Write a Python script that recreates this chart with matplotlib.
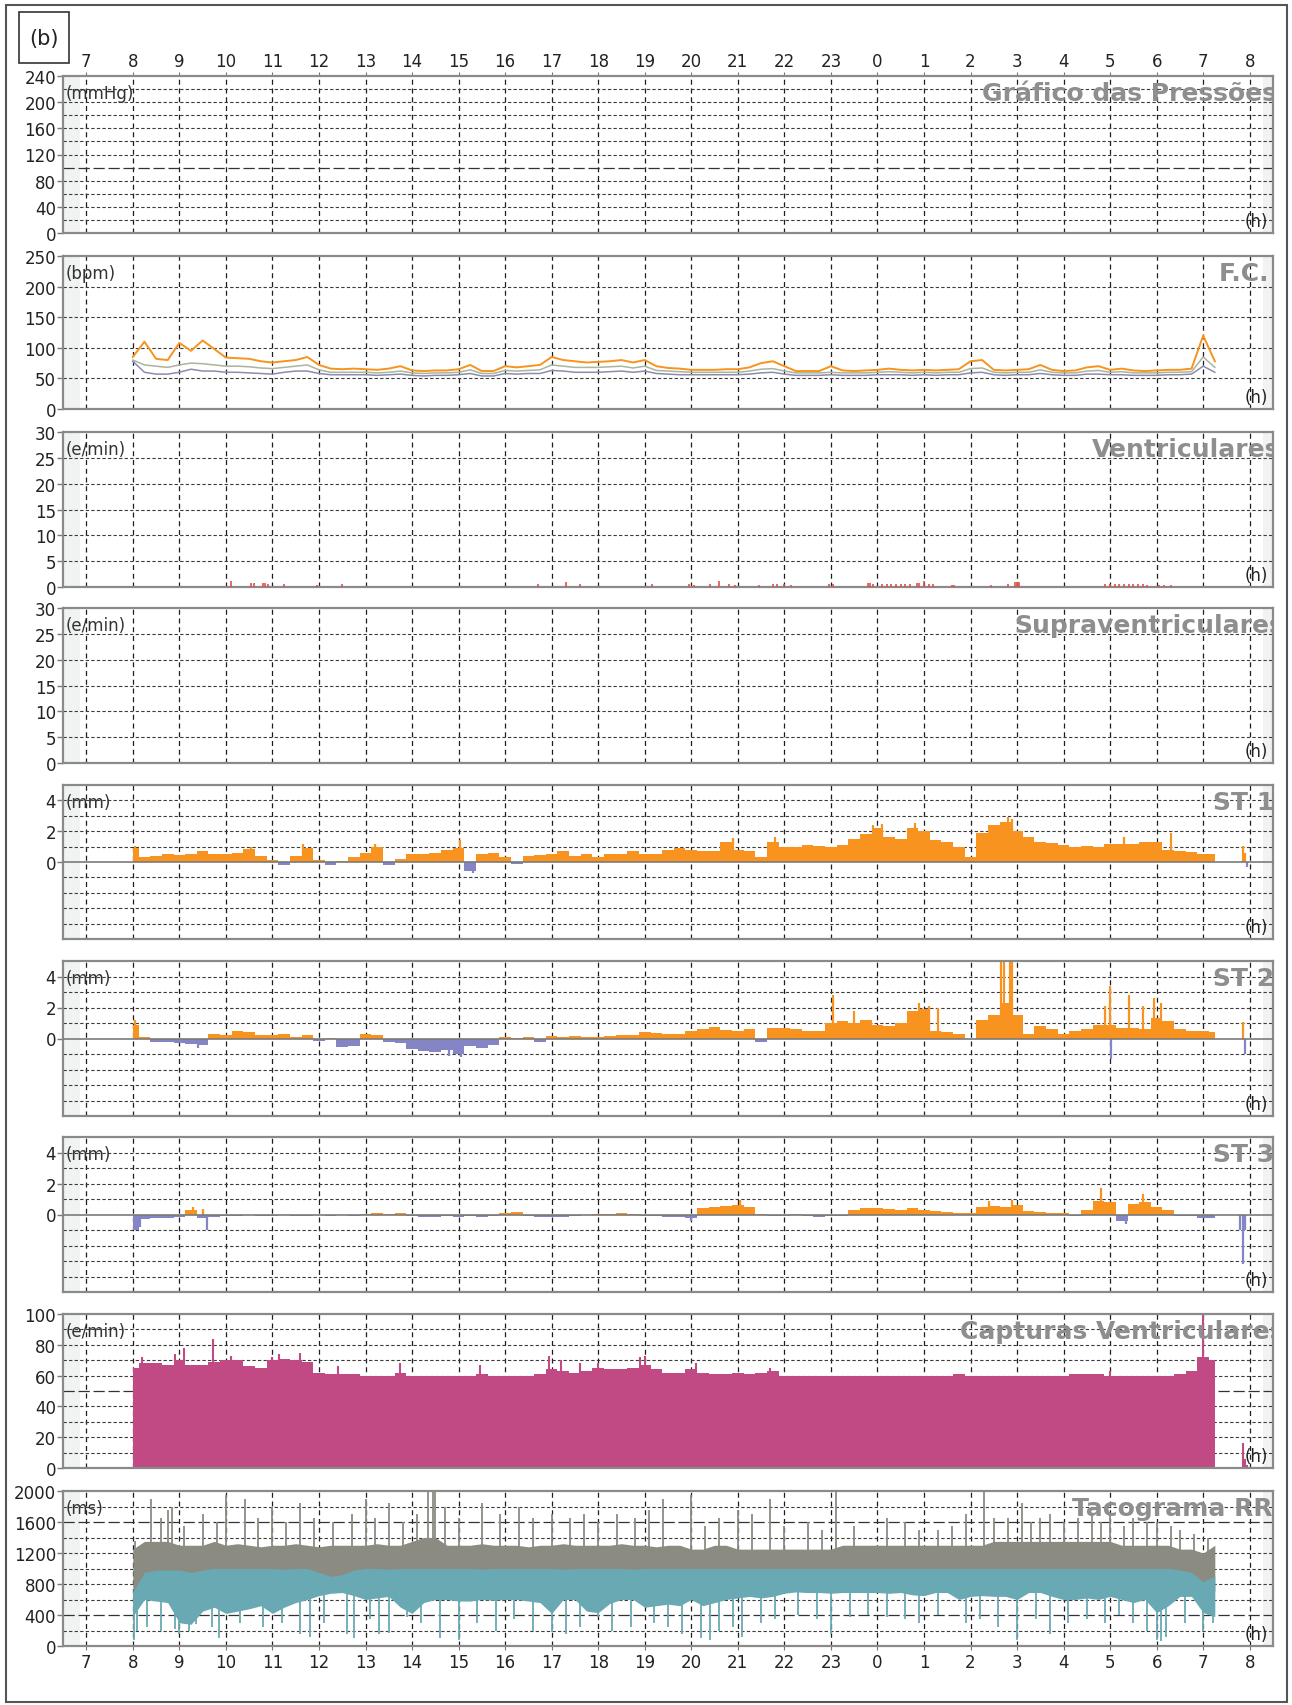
import matplotlib
matplotlib.use("Agg")
import matplotlib.pyplot as plt
import numpy as np
from matplotlib.patches import Rectangle

# quarter-hour samples, 8:00 -> 7:15 next day (hours > 24 are after midnight)
t = np.arange(8.0, 31.3, 0.25)

# Frequencia cardiaca (bpm): max, media, min
fc_max = [85, 110, 82, 80,  108, 95, 112, 98,  84, 83, 82, 78,  76, 78, 80, 85,
          72, 66, 65, 66,  65, 64, 66, 70,  63, 62, 63, 63,  65, 72, 62, 62,
          70, 68, 70, 72,  85, 80, 78, 76,  77, 78, 80, 76,  80, 70, 67, 66,
          64, 64, 64, 65,  65, 68, 75, 78,  70, 62, 62, 62,  70, 63, 62, 63,
          64, 66, 64, 63,  64, 63, 64, 65,  78, 80, 64, 63,  64, 65, 72, 64,
          62, 63, 68, 70,  64, 66, 63, 62,  63, 64, 64, 66,  120, 78]
fc_med = [80, 72, 70, 68,  72, 75, 74, 72,  70, 70, 69, 67,  66, 68, 70, 72,
          64, 60, 60, 60,  60, 59, 60, 62,  59, 58, 59, 59,  60, 64, 58, 58,
          63, 62, 63, 64,  72, 70, 68, 68,  68, 69, 70, 67,  70, 63, 62, 61,
          60, 60, 60, 60,  60, 62, 65, 66,  62, 59, 59, 59,  60, 59, 59, 59,
          60, 61, 60, 59,  60, 59, 60, 60,  66, 67, 60, 59,  60, 60, 64, 60,
          59, 59, 62, 63,  60, 61, 59, 59,  59, 60, 60, 61,  85, 68]
fc_min = [78, 60, 57, 57,  60, 65, 62, 62,  60, 60, 59, 58,  57, 60, 62, 62,
          58, 56, 56, 56,  56, 55, 56, 57,  55, 54, 55, 55,  56, 58, 54, 54,
          58, 57, 58, 58,  63, 62, 60, 60,  60, 61, 62, 60,  62, 58, 57, 56,
          56, 56, 56, 56,  56, 57, 59, 60,  57, 55, 55, 55,  56, 55, 55, 55,
          56, 56, 56, 55,  56, 55, 56, 56,  59, 60, 56, 55,  56, 56, 58, 56,
          55, 55, 57, 57,  56, 56, 55, 55,  55, 56, 56, 57,  70, 60]

# Extrassistoles ventriculares (e/min)
vent_t = [10.1, 10.55, 10.6, 10.8, 10.85, 10.9, 11.25, 11.95, 12.5,
          16.7, 17.3, 17.6, 19.15, 19.95,
          20.05, 20.4, 20.6, 20.8, 20.95, 21.45, 21.75, 21.85, 22.0, 22.15,
          22.97, 23.04, 23.8, 23.85, 23.9, 24.1, 24.2, 24.3, 24.4, 24.5,
          24.6, 24.7, 24.85, 24.9, 25.0, 25.1, 25.2, 25.6, 25.65,
          26.45, 26.8, 26.95, 27.0, 27.05,
          28.9, 29.0, 29.1, 29.2, 29.3, 29.4, 29.5, 29.6, 29.7, 29.8,
          30.05, 30.15, 30.3]
vent_n = [1.2, 0.8, 0.8, 0.8, 0.8, 0.6, 0.6, 0.4, 0.5,
          0.6, 1.0, 0.6, 0.5, 0.5,
          0.4, 0.5, 1.2, 0.5, 0.4, 0.3, 0.5, 0.5, 0.6, 0.4,
          0.5, 0.5, 0.7, 0.7, 0.5, 0.5, 0.5, 0.6, 0.5, 0.6,
          0.6, 0.6, 0.8, 0.8, 1.2, 0.6, 0.6, 0.4, 0.4,
          0.3, 0.6, 1.0, 1.0, 1.0,
          0.5, 0.5, 0.6, 0.5, 0.5, 0.6, 0.5, 0.5, 0.6, 0.4,
          0.4, 0.4, 0.4]

# ST (mm)
st1 = [0.9, 0.35, 0.4, 0.5,  0.45, 0.5, 0.7, 0.55,  0.5, 0.6, 0.85, 0.4,  0.15, -0.2, 0.4, 0.9,
       0.1, -0.2, 0.05, 0.3,  0.6, 1.0, -0.2, 0.2,  0.5, 0.5, 0.6, 0.8,  0.9, -0.6, 0.5, 0.6,
       0.3, -0.15, 0.4, 0.45,  0.5, 0.7, 0.4, 0.5,  0.35, 0.55, 0.5, 0.7,  0.5, 0.55, 0.8, 0.9,
       0.75, 0.7, 0.7, 1.3,  0.8, 0.7, 0.3, 1.3,  1.0, 0.95, 1.1, 1.05,  1.0, 1.1, 1.5, 1.8,
       2.2, 1.6, 1.5, 2.2,  2.0, 1.4, 1.3, 1.0,  0.3, 1.9, 2.4, 2.6,  2.0, 1.6, 1.3, 1.25,
       1.1, 1.0, 1.05, 1.0,  1.15, 1.2, 1.2, 1.3,  1.3, 0.8, 0.7, 0.65,  0.5, 0.5]
st1_pk_t = [8.05, 10.55, 11.65, 13.2, 15.03, 15.3, 20.9, 21.8, 23.9, 24.1, 24.8, 26.8, 26.9, 29.3, 30.3]
st1_pk_v = [1.05, 1.0, 1.2, 1.2, 1.4, -0.7, 1.55, 1.65, 2.4, 2.45, 2.55, 2.9, 2.8, 1.6, 1.9]

st2 = [0.9, 0.1, -0.25, -0.2,  -0.3, -0.35, -0.45, 0.3,  0.2, 0.5, 0.45, 0.2,  0.25, 0.3, 0.1, 0.2,
       -0.15, 0.05, -0.55, -0.5,  0.3, 0.25, -0.25, -0.3,  -0.7, -0.8, -0.9, -0.75,  -1.0, -0.5, -0.6, -0.45,
       0.1, 0.05, 0.1, -0.25,  0.15, 0.1, 0.15, 0.1,  0.1, 0.15, 0.2, 0.2,  0.4, 0.35, 0.3, 0.3,
       0.5, 0.6, 0.75, 0.55,  0.5, 0.6, -0.2, 0.7,  0.7, 0.6, 0.5, 0.5,  1.0, 1.1, 1.0, 1.2,
       0.9, 0.8, 1.0, 1.8,  1.9, 0.5, 0.4, 0.3,  0.0, 1.2, 1.5, 2.3,  1.5, 0.3, 0.8, 0.6,
       0.3, 0.5, 0.6, 0.85,  0.9, 0.7, 0.7, 0.6,  1.3, 1.1, 0.6, 0.5,  0.5, 0.4]
st2_pk_t = [8.05, 9.4, 14.8, 15.05, 23.05, 23.5, 24.9, 25.1, 25.3, 26.65, 26.72, 26.85, 26.9,
            28.9, 29.0, 29.02, 29.4, 29.7, 29.95, 30.1]
st2_pk_v = [1.2, -0.6, -1.1, -1.2, 2.8, 1.8, 2.3, 2.1, 2.0, 5.0, 5.0, 5.0, 5.0,
            2.1, 3.4, -1.35, 2.8, 2.1, 2.6, 2.3]

st3 = [-1.0, -0.3, -0.25, -0.2,  -0.15, 0.3, -0.2, -0.15,  -0.1, -0.1, -0.05, -0.1,  -0.1, -0.05, -0.1, -0.1,
       -0.05, -0.1, -0.05, -0.1,  0.05, 0.1, 0.05, 0.1,  -0.1, -0.15, -0.15, -0.1,  -0.15, -0.1, -0.15, -0.1,
       0.1, 0.15, -0.1, -0.15,  -0.15, -0.15, -0.1, -0.05,  0.05, 0.05, 0.1, 0.05,  -0.1, -0.1, -0.15, -0.15,
       -0.2, 0.4, 0.5, 0.55,  0.6, 0.5, 0.05, -0.1,  -0.1, 0.05, -0.1, -0.15,  -0.1, -0.1, 0.3, 0.4,
       0.4, 0.35, 0.3, 0.4,  0.3, 0.2, 0.15, 0.1,  0.1, 0.5, 0.55, 0.5,  0.6, 0.2, 0.15, 0.1,
       0.1, -0.1, 0.3, 0.9,  0.8, -0.4, 0.7, 0.8,  0.5, 0.3, -0.1, -0.1,  -0.2, -0.2]
st3_pk_t = [8.05, 8.15, 9.3, 9.5, 9.6, 20.0, 21.05, 26.4, 26.9, 28.8, 29.35, 29.7]
st3_pk_v = [-1.0, -0.8, 0.5, 0.35, -1.0, -0.4, 0.95, 0.85, 0.95, 1.7, -0.6, 1.35]

# short recording after 7:45
tail_t = [31.8, 31.85, 31.9, 31.95]
st1_tail = [0.0, 1.05, 0.6, -0.3]
st2_tail = [0.0, 1.05, -1.0, 0.0]
st3_tail = [-1.0, -3.2, -1.0, 0.0]
cap_tail = [0, 16, 6, 2]

# Capturas ventriculares (e/min)
cap = [65, 68, 68, 67,  70, 67, 67, 69,  70, 70, 66, 65,  70, 71, 70, 69,
       62, 61, 61, 61,  60, 60, 60, 62,  60, 60, 60, 60,  60, 60, 61, 60,
       60, 60, 60, 61,  64, 63, 62, 63,  65, 64, 64, 65,  67, 64, 62, 62,
       64, 62, 61, 61,  62, 61, 62, 63,  60, 60, 60, 60,  60, 60, 60, 60,
       60, 60, 60, 60,  60, 60, 60, 61,  60, 60, 60, 60,  60, 60, 60, 60,
       60, 61, 61, 61,  60, 60, 60, 60,  60, 60, 61, 63,  72, 70]
cap_pk_t = [8.2, 8.9, 9.1, 9.73, 10.1, 11.0, 11.15, 11.6, 12.4, 13.75, 15.45, 16.94, 17.2,
            17.6, 18.0, 18.9, 19.0, 20.1, 21.7, 29.0, 30.9, 31.0]
cap_pk_v = [72, 74, 78, 84, 73, 72, 74, 75, 66, 68, 67, 73, 70,
            68, 68, 72, 73, 68, 65, 63, 68, 100]

# Tacograma RR (ms)
rr_gray_hi = [1250, 1350, 1350, 1350,  1300, 1300, 1300, 1350,  1300, 1320, 1300, 1280,  1300, 1300, 1320, 1300,
              1280, 1300, 1300, 1300,  1300, 1320, 1300, 1300,  1350, 1400, 1400, 1300,  1300, 1300, 1320, 1300,
              1300, 1300, 1280, 1300,  1300, 1320, 1300, 1300,  1300, 1300, 1320, 1300,  1300, 1280, 1300, 1300,
              1250, 1250, 1300, 1300,  1250, 1250, 1250, 1250,  1250, 1250, 1250, 1250,  1250, 1300, 1300, 1300,
              1300, 1300, 1300, 1300,  1300, 1300, 1300, 1300,  1300, 1300, 1350, 1350,  1350, 1350, 1350, 1350,
              1350, 1350, 1350, 1350,  1350, 1300, 1300, 1300,  1300, 1300, 1250, 1250,  1200, 1300]
rr_teal_hi = [700, 950, 980, 980,  980, 950, 980, 1000,  1000, 1000, 1000, 1000,  1000, 990, 1000, 1000,
              950, 900, 920, 980,  1000, 1000, 990, 1000,  1000, 1000, 1000, 1000,  1000, 1000, 990, 1000,
              1000, 1000, 1000, 1000,  1000, 990, 1000, 1000,  1000, 1000, 1000, 990,  1000, 1000, 1000, 1000,
              1000, 1000, 1000, 1000,  1000, 1000, 1000, 1000,  1000, 1000, 1000, 1000,  1000, 1000, 1000, 1000,
              1000, 1000, 1000, 1000,  1000, 1000, 1000, 1000,  1000, 1000, 1000, 1000,  1000, 1000, 1000, 1000,
              1000, 1000, 1000, 1000,  1000, 1000, 1000, 1000,  1000, 1000, 980, 950,  830, 900]
rr_teal_lo = [380, 600, 580, 560,  300, 280, 450, 500,  420, 450, 480, 520,  420, 500, 560, 600,
              650, 680, 690, 650,  600, 620, 640, 500,  420, 560, 600, 600,  580, 580, 600, 590,
              600, 600, 580, 560,  420, 600, 600, 450,  430, 550, 600, 600,  500, 520, 540, 520,
              600, 520, 560, 600,  620, 640, 620, 640,  680, 700, 690, 690,  680, 690, 690, 690,
              690, 680, 690, 660,  650, 690, 690, 600,  640, 650, 640, 640,  600, 690, 690, 640,
              600, 600, 620, 600,  640, 600, 560, 600,  430, 520, 640, 640,  430, 380]
rr_up_t = [8.05, 8.4, 8.6, 8.75, 8.85, 9.1, 9.5, 9.8, 10.0, 10.4, 10.7, 11.0, 11.3, 11.6, 11.9,
           12.3, 12.7, 13.0, 13.2, 13.5, 13.8, 14.1, 14.35, 14.45, 14.5, 14.7, 15.0, 15.5, 15.9,
           16.3, 16.6, 17.0, 17.4, 17.7, 18.0, 18.4, 18.8, 19.1, 19.4, 20.0, 20.3, 20.6, 21.0,
           21.3, 21.7, 22.0, 22.5, 22.8, 23.1, 23.5, 24.2, 24.6, 24.9, 25.3, 25.6, 25.9, 26.3,
           26.5, 26.8, 27.1, 27.3, 27.5, 27.7, 28.0, 28.3, 28.6, 28.8, 29.0, 29.3, 29.5, 29.8,
           30.0, 30.3, 30.5, 30.8, 31.1]
rr_up_v = [1350, 1900, 1650, 1750, 1800, 1550, 1700, 1600, 1950, 1900, 1650, 1800, 1600, 1850, 1650,
           1600, 1700, 1900, 1650, 1850, 1600, 1700, 2000, 2000, 2000, 1800, 1650, 1850, 1700,
           1800, 1650, 1700, 1650, 1700, 1600, 1700, 1650, 1750, 1900, 1950, 1550, 1650, 1750,
           1700, 1900, 1550, 1600, 1500, 2000, 1550, 1650, 1600, 1500, 1500, 1550, 1700, 2000,
           1650, 1650, 1850, 1600, 1650, 1700, 1600, 1650, 1700, 1600, 1700, 1550, 1650, 1600,
           1600, 1550, 1500, 1450, 1400]
rr_dn_t = [8.02, 8.1, 8.3, 8.6, 8.9, 9.0, 9.2, 9.35, 9.7, 9.85, 10.3, 10.8, 11.2, 11.6, 11.8,
           12.1, 12.6, 12.75, 13.1, 13.3, 13.5, 13.9, 14.2, 14.6, 15.0, 15.4, 15.8, 16.2, 16.6,
           17.0, 17.3, 17.6, 18.0, 18.3, 18.7, 19.2, 19.5, 19.8, 20.2, 20.4, 20.6, 20.9, 21.1,
           21.5, 21.8, 22.3, 22.7, 23.0, 23.4, 23.8, 24.2, 24.6, 24.9, 25.3, 25.9, 26.2, 26.6,
           27.0, 27.4, 27.7, 28.1, 28.5, 28.9, 29.2, 29.5, 29.8, 30.0, 30.1, 30.2, 30.6, 31.0, 31.2]
rr_dn_v = [80, 200, 250, 200, 220, 150, 200, 280, 250, 100, 300, 250, 300, 150, 120,
           300, 150, 100, 350, 150, 170, 380, 300, 100, 80, 300, 200, 350, 200,
           180, 150, 250, 380, 200, 250, 300, 250, 150, 100, 80, 200, 250, 120,
           300, 350, 400, 350, 150, 380, 400, 380, 350, 300, 400, 300, 350, 250,
           80, 350, 150, 300, 350, 300, 400, 300, 200, 80, 60, 120, 300, 200, 300]

hours = list(range(7, 33))
hour_labels = [str(h % 24) for h in hours]

ORANGE = "#f7931e"
PURPLE = "#8585c6"
MAGENTA = "#c24a84"
GRAY_RR = "#8b8b82"
TEAL = "#69a9b3"
TITLE_C = "#8e8e8e"

W, H = 1292, 1706
fig = plt.figure(figsize=(W / 100, H / 100), dpi=100)

tops = [77, 257, 433, 609, 786, 962, 1138, 1315, 1492]
bots = [234, 410, 588, 764, 940, 1117, 1293, 1469, 1647]


def panel(i, ylim, ticks, grid, unit, title, title_px, long=()):
    top, bot = tops[i], bots[i]
    hp = bot - top
    ax = fig.add_axes([63 / W, 1 - bot / H, 1210 / W, hp / H])
    ax.set_xlim(6.5, 32.5)
    ax.set_ylim(*ylim)
    ax.axvspan(6.5, 6.87, color="#f1f2f2", lw=0, zorder=0)
    ax.axvspan(32.28, 32.5, color="#f1f2f2", lw=0, zorder=0)
    for h in hours:
        ax.axvline(h, color="#1e1e1e", lw=0.9, ls=(0, (4, 3)), zorder=1)
    for v in grid:
        if v in long:
            ax.axhline(v, color="#333333", lw=0.9, ls=(0, (9, 3)), zorder=1)
        else:
            ax.axhline(v, color="#3c3c3c", lw=0.8, ls=(0, (3, 2)), zorder=1)
    ax.set_yticks(ticks)
    ax.set_yticklabels([str(v) for v in ticks])
    ax.tick_params(axis="y", length=4, width=1, color="#777777", labelsize=12,
                   pad=1, labelcolor="#222222")
    ax.set_xticks([])
    for s in ax.spines.values():
        s.set_color("#8a8a8a")
        s.set_linewidth(1.6)
    ax.text(0.0025, 1 - 17 / hp, unit, transform=ax.transAxes, fontsize=12,
            ha="left", va="center", color="#333333", zorder=5)
    ax.text(0.996, 12 / hp, "(h)", transform=ax.transAxes, fontsize=12,
            ha="right", va="center", color="#222222", zorder=5)
    ax.text((title_px - 63) / 1210, 1 - 17 / hp, title, transform=ax.transAxes,
            fontsize=18, fontweight="bold", color=TITLE_C, ha="left", va="center",
            clip_on=True, zorder=6)
    return ax


def st_panel(i, vals, pk_t, pk_v, tail, title):
    ax = panel(i, (-5, 5), [0, 2, 4], [-4, -3, -2, -1, 1, 2, 3, 4], "(mm)", title, 1213)
    v = np.array(vals)
    ax.fill_between(t, 0, np.where(v > 0, v, 0), step="mid", color=ORANGE, lw=0, zorder=2)
    ax.fill_between(t, 0, np.where(v < 0, v, 0), step="mid", color=PURPLE, lw=0, zorder=2)
    pt, pv = np.array(pk_t), np.array(pk_v)
    ax.vlines(pt[pv > 0], 0, pv[pv > 0], color=ORANGE, lw=1.6, zorder=2)
    ax.vlines(pt[pv < 0], pv[pv < 0], 0, color=PURPLE, lw=1.6, zorder=2)
    tv = np.array(tail)
    tt = np.array(tail_t)
    ax.vlines(tt[tv > 0], 0, tv[tv > 0], color=ORANGE, lw=1.6, zorder=2)
    ax.vlines(tt[tv < 0], tv[tv < 0], 0, color=PURPLE, lw=1.6, zorder=2)
    ax.axhline(0, color="#7a7a7a", lw=1.2, zorder=3)
    return ax


# 1 - pressoes (sem dados)
ax1 = panel(0, (0, 240), list(range(0, 241, 40)), list(range(20, 240, 20)),
            "(mmHg)", "Gráfico das Pressões", 982, long=(100,))
ax1.xaxis.set_ticks_position("top")
ax1.set_xticks(hours)
ax1.set_xticklabels(hour_labels)
ax1.tick_params(axis="x", length=3, color="#777777", labelsize=12, pad=1, labelcolor="#222222")

# 2 - F.C.
ax2 = panel(1, (0, 250), list(range(0, 251, 50)), [50, 100, 150, 200], "(bpm)", "F.C.", 1219)
ax2.plot(t, fc_min, color="#8c8cae", lw=1.1, zorder=3)
ax2.plot(t, fc_med, color="#a9b59c", lw=1.1, zorder=3)
ax2.plot(t, fc_max, color=ORANGE, lw=1.4, zorder=4)

# 3 - ventriculares
ax3 = panel(2, (0, 30), list(range(0, 31, 5)), [5, 10, 15, 20, 25], "(e/min)", "Ventriculares", 1092)
ax3.vlines(vent_t, 0, vent_n, color="#e0504a", lw=1.2, zorder=3)

# 4 - supraventriculares (sem eventos)
ax4 = panel(3, (0, 30), list(range(0, 31, 5)), [5, 10, 15, 20, 25], "(e/min)", "Supraventriculares", 1014)

# 5-7 - ST
st_panel(4, st1, st1_pk_t, st1_pk_v, st1_tail, "ST 1")
st_panel(5, st2, st2_pk_t, st2_pk_v, st2_tail, "ST 2")
st_panel(6, st3, st3_pk_t, st3_pk_v, st3_tail, "ST 3")

# 8 - capturas ventriculares
ax8 = panel(7, (0, 100), list(range(0, 101, 20)), list(range(10, 100, 10)),
            "(e/min)", "Capturas Ventriculares", 960, long=(50,))
ax8.fill_between(t, 0, cap, step="mid", color=MAGENTA, lw=0, zorder=2)
ax8.vlines(cap_pk_t, 0, cap_pk_v, color=MAGENTA, lw=1.5, zorder=2)
ax8.vlines(tail_t, 0, cap_tail, color=MAGENTA, lw=1.5, zorder=2)

# 9 - tacograma RR
ax9 = panel(8, (0, 2000), list(range(0, 2001, 400)), list(range(200, 2000, 200)),
            "(ms)", "Tacograma RR", 1072, long=(400, 1600))
ax9.fill_between(t, 700, rr_gray_hi, color=GRAY_RR, lw=0, zorder=2)
ax9.vlines(rr_up_t, 1000, rr_up_v, color=GRAY_RR, lw=1.3, zorder=2)
ax9.fill_between(t, rr_teal_lo, rr_teal_hi, color=TEAL, lw=0, zorder=3)
ax9.vlines(rr_dn_t, rr_dn_v, 700, color=TEAL, lw=1.3, zorder=3)
ax9.set_xticks(hours)
ax9.set_xticklabels(hour_labels)
ax9.tick_params(axis="x", length=3, color="#777777", labelsize=12, pad=2, labelcolor="#222222")

# moldura externa e rotulo (b)
fig.patches.append(Rectangle((6 / W, 1 - 1703 / H), 1281 / W, 1697 / H, transform=fig.transFigure,
                             fill=False, ec="#555555", lw=1.5))
fig.patches.append(Rectangle((19 / W, 1 - 64 / H), 50 / W, 51 / H, transform=fig.transFigure,
                             fill=False, ec="#333333", lw=1.2))
fig.text(44 / W, 1 - 39 / H, "(b)", fontsize=15, ha="center", va="center", color="#222222")

fig.savefig("out.png", dpi=100)
